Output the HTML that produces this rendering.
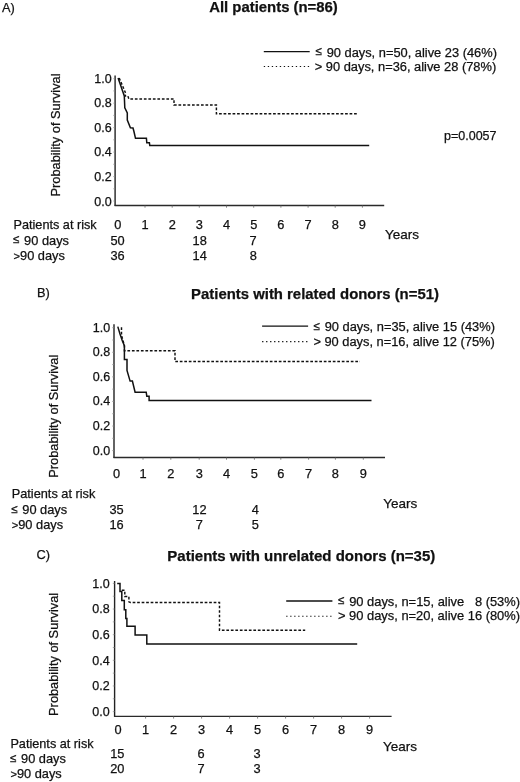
<!DOCTYPE html>
<html><head><meta charset="utf-8"><title>Survival by time to transplant</title>
<style>html,body{margin:0;padding:0;background:#fff}svg{display:block}text{font-family:"Liberation Sans",sans-serif;fill:#111;stroke:#111;stroke-width:0.25px}</style>
</head><body>
<svg width="520" height="782" viewBox="0 0 520 782" font-size="12.8">
<rect width="520" height="782" fill="#fff"/>
<g id="panel-A">
<line x1="115.1" y1="75.5" x2="115.1" y2="206.0" stroke="#222" stroke-width="1.4"/>
<line x1="114.6" y1="205.5" x2="384.2" y2="205.5" stroke="#2a2a2a" stroke-width="1.3"/>
<line x1="145.0" y1="205.5" x2="145.0" y2="207.7" stroke="#666" stroke-width="0.8"/>
<line x1="172.2" y1="205.5" x2="172.2" y2="207.7" stroke="#666" stroke-width="0.8"/>
<line x1="199.3" y1="205.5" x2="199.3" y2="207.7" stroke="#666" stroke-width="0.8"/>
<line x1="226.5" y1="205.5" x2="226.5" y2="207.7" stroke="#666" stroke-width="0.8"/>
<line x1="253.7" y1="205.5" x2="253.7" y2="207.7" stroke="#666" stroke-width="0.8"/>
<line x1="280.9" y1="205.5" x2="280.9" y2="207.7" stroke="#666" stroke-width="0.8"/>
<line x1="308.1" y1="205.5" x2="308.1" y2="207.7" stroke="#666" stroke-width="0.8"/>
<line x1="335.2" y1="205.5" x2="335.2" y2="207.7" stroke="#666" stroke-width="0.8"/>
<line x1="362.4" y1="205.5" x2="362.4" y2="207.7" stroke="#666" stroke-width="0.8"/>
<line x1="113.3" y1="201.0" x2="115.1" y2="201.0" stroke="#888" stroke-width="0.7"/>
<line x1="113.3" y1="188.77" x2="115.1" y2="188.77" stroke="#888" stroke-width="0.7"/>
<line x1="113.3" y1="176.54" x2="115.1" y2="176.54" stroke="#888" stroke-width="0.7"/>
<line x1="113.3" y1="164.31" x2="115.1" y2="164.31" stroke="#888" stroke-width="0.7"/>
<line x1="113.3" y1="152.08" x2="115.1" y2="152.08" stroke="#888" stroke-width="0.7"/>
<line x1="113.3" y1="139.85" x2="115.1" y2="139.85" stroke="#888" stroke-width="0.7"/>
<line x1="113.3" y1="127.62" x2="115.1" y2="127.62" stroke="#888" stroke-width="0.7"/>
<line x1="113.3" y1="115.39" x2="115.1" y2="115.39" stroke="#888" stroke-width="0.7"/>
<line x1="113.3" y1="103.16" x2="115.1" y2="103.16" stroke="#888" stroke-width="0.7"/>
<line x1="113.3" y1="90.93" x2="115.1" y2="90.93" stroke="#888" stroke-width="0.7"/>
<line x1="113.3" y1="78.7" x2="115.1" y2="78.7" stroke="#888" stroke-width="0.7"/>
<text x="111.6" y="83.3" font-size="12.5" text-anchor="end">1.0</text>
<text x="111.6" y="107.3" font-size="12.5" text-anchor="end">0.8</text>
<text x="111.6" y="132.1" font-size="12.5" text-anchor="end">0.6</text>
<text x="111.6" y="156.1" font-size="12.5" text-anchor="end">0.4</text>
<text x="111.6" y="180.9" font-size="12.5" text-anchor="end">0.2</text>
<text x="111.6" y="205.6" font-size="12.5" text-anchor="end">0.0</text>
<text x="117.8" y="229" text-anchor="middle">0</text>
<text x="145.0" y="229" text-anchor="middle">1</text>
<text x="172.2" y="229" text-anchor="middle">2</text>
<text x="199.3" y="229" text-anchor="middle">3</text>
<text x="226.5" y="229" text-anchor="middle">4</text>
<text x="253.7" y="229" text-anchor="middle">5</text>
<text x="280.9" y="229" text-anchor="middle">6</text>
<text x="308.1" y="229" text-anchor="middle">7</text>
<text x="335.2" y="229" text-anchor="middle">8</text>
<text x="362.4" y="229" text-anchor="middle">9</text>
<text transform="translate(59.5,135) rotate(-90)" text-anchor="middle">Probability of Survival</text>
<text x="2" y="12">A)</text>
<text x="273.5" y="12" font-size="14.9" text-anchor="middle" font-weight="bold">All patients (n=86)</text>
<text x="316" y="56.5" font-size="12.85"><tspan font-size="11.6" dx="-0.4" dy="-1.3">≤</tspan><tspan dx="1.1" dy="1.3"> 90 days, n=50, alive 23 (46%)</tspan></text>
<text x="314.8" y="71" font-size="12.85">&gt; 90 days, n=36, alive 28 (78%)</text>
<text x="444" y="139.8" font-size="12.5">p=0.0057</text>
<text x="13.5" y="229.1" font-size="12.7">Patients at risk</text>
<text x="13.5" y="244.5"><tspan font-size="11.6" dx="-0.4" dy="-1.3">≤</tspan><tspan dx="1.1" dy="1.3"> 90 days</tspan></text>
<text x="13.5" y="260"><tspan font-size="11.2">&gt;</tspan>90 days</text>
<text x="385" y="239" font-size="13.5">Years</text>
<text x="117.5" y="244.5" text-anchor="middle">50</text>
<text x="199.7" y="244.5" text-anchor="middle">18</text>
<text x="253.0" y="244.5" text-anchor="middle">7</text>
<text x="117.5" y="260" text-anchor="middle">36</text>
<text x="199.7" y="260" text-anchor="middle">14</text>
<text x="253.3" y="260" text-anchor="middle">8</text>
<line x1="263.8" y1="51.6" x2="309.7" y2="51.6" stroke="#111" stroke-width="1.3"/>
<line x1="263.8" y1="66.5" x2="309.3" y2="66.5" stroke="#111" stroke-width="1.1" stroke-dasharray="1.3,2.7"/>
<path d="M119.2,78 L125.8,93.5 L125,96 L127.9,96 L128.9,99 L174,99 L174,104.9 L216.4,104.9 L216.4,113.8 L358,113.8" fill="none" stroke="#111" stroke-width="1.45" stroke-linejoin="miter" stroke-dasharray="2.7,1.8"/>
<path d="M118.1,78 L124.3,96 L124.8,107.8 L127.3,112.9 L127.3,120 L130.4,127.8 L133,128 L134,131.8 L135.5,138.3 L146.4,138.3 L146.8,142.8 L149.4,142.8 L149.8,145.5 L369.2,145.5" fill="none" stroke="#111" stroke-width="1.5" stroke-linejoin="miter"/>
</g>
<g id="panel-B">
<line x1="114" y1="324.3" x2="114" y2="458.0" stroke="#222" stroke-width="1.4"/>
<line x1="113.5" y1="457.5" x2="385" y2="457.5" stroke="#2a2a2a" stroke-width="1.3"/>
<line x1="143.0" y1="457.5" x2="143.0" y2="459.7" stroke="#666" stroke-width="0.8"/>
<line x1="170.8" y1="457.5" x2="170.8" y2="459.7" stroke="#666" stroke-width="0.8"/>
<line x1="199.2" y1="457.5" x2="199.2" y2="459.7" stroke="#666" stroke-width="0.8"/>
<line x1="226.5" y1="457.5" x2="226.5" y2="459.7" stroke="#666" stroke-width="0.8"/>
<line x1="254.4" y1="457.5" x2="254.4" y2="459.7" stroke="#666" stroke-width="0.8"/>
<line x1="280.8" y1="457.5" x2="280.8" y2="459.7" stroke="#666" stroke-width="0.8"/>
<line x1="308.6" y1="457.5" x2="308.6" y2="459.7" stroke="#666" stroke-width="0.8"/>
<line x1="335.4" y1="457.5" x2="335.4" y2="459.7" stroke="#666" stroke-width="0.8"/>
<line x1="363.3" y1="457.5" x2="363.3" y2="459.7" stroke="#666" stroke-width="0.8"/>
<line x1="112.2" y1="450.6" x2="114" y2="450.6" stroke="#888" stroke-width="0.7"/>
<line x1="112.2" y1="438.31" x2="114" y2="438.31" stroke="#888" stroke-width="0.7"/>
<line x1="112.2" y1="426.02" x2="114" y2="426.02" stroke="#888" stroke-width="0.7"/>
<line x1="112.2" y1="413.73" x2="114" y2="413.73" stroke="#888" stroke-width="0.7"/>
<line x1="112.2" y1="401.44" x2="114" y2="401.44" stroke="#888" stroke-width="0.7"/>
<line x1="112.2" y1="389.15" x2="114" y2="389.15" stroke="#888" stroke-width="0.7"/>
<line x1="112.2" y1="376.86" x2="114" y2="376.86" stroke="#888" stroke-width="0.7"/>
<line x1="112.2" y1="364.57" x2="114" y2="364.57" stroke="#888" stroke-width="0.7"/>
<line x1="112.2" y1="352.28" x2="114" y2="352.28" stroke="#888" stroke-width="0.7"/>
<line x1="112.2" y1="339.99" x2="114" y2="339.99" stroke="#888" stroke-width="0.7"/>
<line x1="112.2" y1="327.7" x2="114" y2="327.7" stroke="#888" stroke-width="0.7"/>
<text x="110.2" y="332.3" font-size="12.5" text-anchor="end">1.0</text>
<text x="110.2" y="356.2" font-size="12.5" text-anchor="end">0.8</text>
<text x="110.2" y="381.3" font-size="12.5" text-anchor="end">0.6</text>
<text x="110.2" y="405.2" font-size="12.5" text-anchor="end">0.4</text>
<text x="110.2" y="429.7" font-size="12.5" text-anchor="end">0.2</text>
<text x="110.2" y="455.2" font-size="12.5" text-anchor="end">0.0</text>
<text x="116.5" y="477.8" text-anchor="middle">0</text>
<text x="143.0" y="477.8" text-anchor="middle">1</text>
<text x="170.8" y="477.8" text-anchor="middle">2</text>
<text x="199.2" y="477.8" text-anchor="middle">3</text>
<text x="226.5" y="477.8" text-anchor="middle">4</text>
<text x="254.4" y="477.8" text-anchor="middle">5</text>
<text x="280.8" y="477.8" text-anchor="middle">6</text>
<text x="308.6" y="477.8" text-anchor="middle">7</text>
<text x="335.4" y="477.8" text-anchor="middle">8</text>
<text x="363.3" y="477.8" text-anchor="middle">9</text>
<text transform="translate(57.7,416.2) rotate(-90)" text-anchor="middle">Probability of Survival</text>
<text x="37" y="297">B)</text>
<text x="315" y="299" font-size="14.9" text-anchor="middle" font-weight="bold">Patients with related donors (n=51)</text>
<text x="314" y="331.3" font-size="12.85"><tspan font-size="11.6" dx="-0.4" dy="-1.3">≤</tspan><tspan dx="1.1" dy="1.3"> 90 days, n=35, alive 15 (43%)</tspan></text>
<text x="313.4" y="346.4" font-size="12.85">&gt; 90 days, n=16, alive 12 (75%)</text>
<text x="11.7" y="498.2" font-size="12.75">Patients at risk</text>
<text x="11.7" y="513.9"><tspan font-size="11.6" dx="-0.4" dy="-1.3">≤</tspan><tspan dx="1.1" dy="1.3"> 90 days</tspan></text>
<text x="11.7" y="528.9"><tspan font-size="11.2">&gt;</tspan>90 days</text>
<text x="383.2" y="507.5" font-size="13.5">Years</text>
<text x="116.5" y="513.9" text-anchor="middle">35</text>
<text x="199.4" y="513.7" text-anchor="middle">12</text>
<text x="255.2" y="513.7" text-anchor="middle">4</text>
<text x="116.5" y="528.9" text-anchor="middle">16</text>
<text x="199.4" y="528.5" text-anchor="middle">7</text>
<text x="255.2" y="528.5" text-anchor="middle">5</text>
<line x1="262.1" y1="326.2" x2="308.1" y2="326.2" stroke="#111" stroke-width="1.3"/>
<line x1="262.1" y1="341.6" x2="307.6" y2="341.6" stroke="#111" stroke-width="1.1" stroke-dasharray="1.3,2.7"/>
<path d="M121.5,327.2 L121.5,335.3 L124.4,345.6 L124.4,350.8 L175,350.8 L175,361.4 L360,361.4" fill="none" stroke="#111" stroke-width="1.45" stroke-linejoin="miter" stroke-dasharray="2.7,1.8"/>
<path d="M117.8,326.6 L120,334 L122.4,341 L124.4,345.6 L124.4,359.4 L127,359.4 L127,370.4 L130.1,381.1 L132.4,381.1 L135.1,392.2 L146.2,392.2 L146.8,396.2 L149.1,396.2 L149.1,400.4 L371.5,400.4" fill="none" stroke="#111" stroke-width="1.5" stroke-linejoin="miter"/>
</g>
<g id="panel-C">
<line x1="114.6" y1="581" x2="114.6" y2="716.9" stroke="#222" stroke-width="1.4"/>
<line x1="114.1" y1="716.4" x2="391.6" y2="716.4" stroke="#2a2a2a" stroke-width="1.3"/>
<line x1="145.6" y1="716.4" x2="145.6" y2="718.6" stroke="#666" stroke-width="0.8"/>
<line x1="173.6" y1="716.4" x2="173.6" y2="718.6" stroke="#666" stroke-width="0.8"/>
<line x1="201.6" y1="716.4" x2="201.6" y2="718.6" stroke="#666" stroke-width="0.8"/>
<line x1="229.6" y1="716.4" x2="229.6" y2="718.6" stroke="#666" stroke-width="0.8"/>
<line x1="257.6" y1="716.4" x2="257.6" y2="718.6" stroke="#666" stroke-width="0.8"/>
<line x1="285.6" y1="716.4" x2="285.6" y2="718.6" stroke="#666" stroke-width="0.8"/>
<line x1="313.6" y1="716.4" x2="313.6" y2="718.6" stroke="#666" stroke-width="0.8"/>
<line x1="341.6" y1="716.4" x2="341.6" y2="718.6" stroke="#666" stroke-width="0.8"/>
<line x1="369.6" y1="716.4" x2="369.6" y2="718.6" stroke="#666" stroke-width="0.8"/>
<line x1="112.8" y1="711.6" x2="114.6" y2="711.6" stroke="#888" stroke-width="0.7"/>
<line x1="112.8" y1="698.78" x2="114.6" y2="698.78" stroke="#888" stroke-width="0.7"/>
<line x1="112.8" y1="685.96" x2="114.6" y2="685.96" stroke="#888" stroke-width="0.7"/>
<line x1="112.8" y1="673.14" x2="114.6" y2="673.14" stroke="#888" stroke-width="0.7"/>
<line x1="112.8" y1="660.32" x2="114.6" y2="660.32" stroke="#888" stroke-width="0.7"/>
<line x1="112.8" y1="647.5" x2="114.6" y2="647.5" stroke="#888" stroke-width="0.7"/>
<line x1="112.8" y1="634.68" x2="114.6" y2="634.68" stroke="#888" stroke-width="0.7"/>
<line x1="112.8" y1="621.86" x2="114.6" y2="621.86" stroke="#888" stroke-width="0.7"/>
<line x1="112.8" y1="609.04" x2="114.6" y2="609.04" stroke="#888" stroke-width="0.7"/>
<line x1="112.8" y1="596.22" x2="114.6" y2="596.22" stroke="#888" stroke-width="0.7"/>
<line x1="112.8" y1="583.4" x2="114.6" y2="583.4" stroke="#888" stroke-width="0.7"/>
<text x="109.7" y="588" font-size="12.5" text-anchor="end">1.0</text>
<text x="109.7" y="613.1" font-size="12.5" text-anchor="end">0.8</text>
<text x="109.7" y="638.8" font-size="12.5" text-anchor="end">0.6</text>
<text x="109.7" y="664.8" font-size="12.5" text-anchor="end">0.4</text>
<text x="109.7" y="689.8" font-size="12.5" text-anchor="end">0.2</text>
<text x="109.7" y="716.2" font-size="12.5" text-anchor="end">0.0</text>
<text x="118.1" y="734.3" text-anchor="middle">0</text>
<text x="145.6" y="734.3" text-anchor="middle">1</text>
<text x="173.6" y="734.3" text-anchor="middle">2</text>
<text x="201.6" y="734.3" text-anchor="middle">3</text>
<text x="229.6" y="734.3" text-anchor="middle">4</text>
<text x="257.6" y="734.3" text-anchor="middle">5</text>
<text x="285.6" y="734.3" text-anchor="middle">6</text>
<text x="313.6" y="734.3" text-anchor="middle">7</text>
<text x="341.6" y="734.3" text-anchor="middle">8</text>
<text x="369.6" y="734.3" text-anchor="middle">9</text>
<text transform="translate(58.0,654.4) rotate(-90)" text-anchor="middle">Probability of Survival</text>
<text x="36.5" y="558.8">C)</text>
<text x="301.3" y="560.6" font-size="15.0" text-anchor="middle" font-weight="bold">Patients with unrelated donors (n=35)</text>
<text x="338.5" y="605.5" font-size="12.9"><tspan font-size="11.6" dx="-0.4" dy="-1.3">≤</tspan><tspan dx="1.1" dy="1.3"> 90 days, n=15, alive&#160;&#160;&#160;8 (53%)</tspan></text>
<text x="338" y="620.4" font-size="12.9">&gt; 90 days, n=20, alive 16 (80%)</text>
<text x="10.4" y="747.7" font-size="12.7">Patients at risk</text>
<text x="10.4" y="763.3"><tspan font-size="11.6" dx="-0.4" dy="-1.3">≤</tspan><tspan dx="1.1" dy="1.3"> 90 days</tspan></text>
<text x="10.4" y="778.2"><tspan font-size="11.2">&gt;</tspan>90 days</text>
<text x="383" y="750.5" font-size="13.5">Years</text>
<text x="117.3" y="758.0" text-anchor="middle">15</text>
<text x="201" y="757.6" text-anchor="middle">6</text>
<text x="257" y="757.6" text-anchor="middle">3</text>
<text x="117.3" y="773.3" text-anchor="middle">20</text>
<text x="201" y="773.0" text-anchor="middle">7</text>
<text x="257" y="773.0" text-anchor="middle">3</text>
<line x1="286.2" y1="601.0" x2="332.4" y2="601.0" stroke="#111" stroke-width="1.3"/>
<line x1="286.2" y1="616.2" x2="331.7" y2="616.2" stroke="#111" stroke-width="1.1" stroke-dasharray="1.3,2.7"/>
<path d="M121.8,590.3 L124.8,590.3 L124.8,596.5 L128.9,596.5 L128.9,601.8 L130.5,602.5 L219.5,602.5 L219.5,630.3 L305.2,630.3" fill="none" stroke="#111" stroke-width="1.45" stroke-linejoin="miter" stroke-dasharray="2.7,1.8"/>
<path d="M117.2,583.4 L120,583.4 L120,591.4 L121.8,591.4 L121.8,600.6 L124.3,600.6 L124.3,609.8 L125.8,609.8 L125.8,618.5 L126.9,618.5 L126.9,626.3 L135.1,626.3 L135.1,635.1 L146.8,635.1 L146.8,643.9 L357.2,643.9" fill="none" stroke="#111" stroke-width="1.5" stroke-linejoin="miter"/>
</g>
</svg>
</body></html>
